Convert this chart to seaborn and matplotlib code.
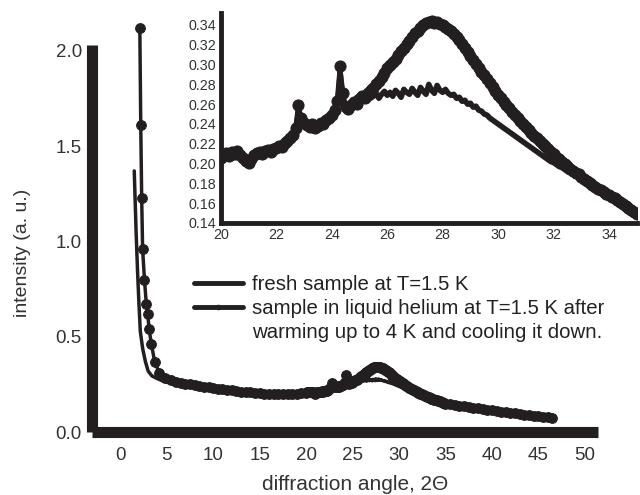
import numpy as np
import pandas as pd
import matplotlib
matplotlib.use("Agg")
import matplotlib.pyplot as plt
from matplotlib.lines import Line2D
import seaborn as sns

sns.set_style("white")
plt.rcParams["font.family"] = ["Liberation Sans", "DejaVu Sans"]

INK = "#231f20"
TEXT = "#333333"

# ---- fresh sample at T=1.5 K ----
fresh_low_x = [1.5, 1.6, 1.7, 1.85, 2.0, 2.15, 2.4, 2.7, 3.0, 3.4, 4.0, 4.5,
               5.0, 5.5, 6.0, 6.5, 7.0, 7.5, 8.0, 8.5, 9.0, 9.5, 10.0, 10.5,
               11.0, 11.5, 12.0, 12.5, 13.0, 13.5, 14.0, 14.5, 15.0, 15.5,
               16.0, 16.5, 17.0, 17.5, 18.0, 18.5, 19.0, 19.5]
fresh_low_y = [1.37, 1.20, 1.05, 0.85, 0.68, 0.53, 0.44, 0.37, 0.32, 0.295,
               0.28, 0.27, 0.262, 0.256, 0.251, 0.247, 0.244, 0.240, 0.237,
               0.234, 0.231, 0.228, 0.225, 0.222, 0.219, 0.216, 0.213, 0.211,
               0.209, 0.207, 0.205, 0.203, 0.201, 0.200, 0.199, 0.199, 0.198,
               0.199, 0.200, 0.201, 0.202, 0.203]

# 2θ grid of the detailed scan (20.0 ... 35.0 in 0.1 steps)
scan_x = np.round(np.arange(200, 351) / 10, 1)

fresh_scan_y = [
    0.204, 0.208, 0.210, 0.207, 0.211, 0.209, 0.212, 0.208, 0.205, 0.202,
    0.200, 0.204, 0.208, 0.210, 0.211, 0.209, 0.212, 0.213, 0.211, 0.214,
    0.215, 0.217, 0.216, 0.220, 0.222, 0.225, 0.228, 0.234, 0.256, 0.244,
    0.240, 0.238, 0.236, 0.239, 0.235, 0.237, 0.240, 0.239, 0.243, 0.245,
    0.248, 0.253, 0.261, 0.293, 0.269, 0.256, 0.254, 0.258, 0.261, 0.259,
    0.264, 0.267, 0.265, 0.270, 0.266, 0.268, 0.271, 0.266, 0.270, 0.273,
    0.269, 0.272, 0.268, 0.274, 0.271, 0.267, 0.275, 0.272, 0.270, 0.276,
    0.272, 0.269, 0.277, 0.273, 0.270, 0.280, 0.274, 0.271, 0.279, 0.274,
    0.272, 0.275, 0.271, 0.269, 0.270, 0.266, 0.267, 0.263, 0.264, 0.260,
    0.261, 0.257, 0.258, 0.254, 0.253, 0.250, 0.249, 0.246, 0.244, 0.242,
    0.240, 0.238, 0.236, 0.234, 0.232, 0.230, 0.228, 0.226, 0.224, 0.222,
    0.220, 0.218, 0.216, 0.214, 0.212, 0.210, 0.208, 0.206, 0.204, 0.202,
    0.201, 0.199, 0.197, 0.196, 0.194, 0.192, 0.191, 0.189, 0.187, 0.186,
    0.184, 0.183, 0.181, 0.179, 0.178, 0.176, 0.174, 0.173, 0.171, 0.169,
    0.168, 0.166, 0.164, 0.163, 0.161, 0.159, 0.157, 0.156, 0.154, 0.152,
    0.150]

high_x = [35.5, 36.0, 36.5, 37.0, 37.5, 38.0, 38.5, 39.0, 39.5, 40.0, 40.5,
          41.0, 41.5, 42.0, 42.5, 43.0, 43.5, 44.0, 44.5, 45.0, 45.5, 46.0,
          46.5]
fresh_high_y = [0.147, 0.143, 0.139, 0.135, 0.131, 0.128, 0.124, 0.121,
                0.118, 0.114, 0.111, 0.108, 0.104, 0.101, 0.098, 0.095,
                0.092, 0.089, 0.086, 0.083, 0.080, 0.077, 0.074]

# ---- sample in liquid helium, after warming up to 4 K and cooling down ----
helium_low_x = [2.1, 2.2, 2.3, 2.4, 2.6, 2.8, 2.95, 3.1, 3.35, 3.7, 4.2,
                4.8, 5.5, 6.0, 6.5, 7.0, 7.5, 8.0, 8.5, 9.0, 9.5, 10.0, 10.5,
                11.0, 11.5, 12.0, 12.5, 13.0, 13.5, 14.0, 14.5, 15.0, 15.5,
                16.0, 16.5, 17.0, 17.5, 18.0, 18.5, 19.0, 19.5]
helium_low_y = [2.12, 1.61, 1.23, 0.96, 0.80, 0.67, 0.62, 0.54, 0.46, 0.37,
                0.31, 0.285, 0.272, 0.264, 0.258, 0.254, 0.250, 0.246, 0.243,
                0.239, 0.235, 0.232, 0.228, 0.225, 0.222, 0.219, 0.216,
                0.213, 0.210, 0.208, 0.206, 0.204, 0.202, 0.201, 0.200,
                0.200, 0.200, 0.201, 0.201, 0.202, 0.203]

helium_scan_y = [
    0.206, 0.209, 0.211, 0.208, 0.212, 0.210, 0.213, 0.209, 0.206, 0.203,
    0.201, 0.205, 0.209, 0.211, 0.212, 0.210, 0.213, 0.214, 0.212, 0.215,
    0.216, 0.218, 0.217, 0.221, 0.223, 0.226, 0.229, 0.236, 0.259, 0.246,
    0.241, 0.239, 0.237, 0.240, 0.236, 0.238, 0.241, 0.240, 0.244, 0.246,
    0.249, 0.254, 0.263, 0.299, 0.271, 0.257, 0.255, 0.259, 0.262, 0.260,
    0.265, 0.268, 0.266, 0.271, 0.274, 0.276, 0.280, 0.283, 0.287, 0.292,
    0.297, 0.300, 0.303, 0.306, 0.310, 0.314, 0.317, 0.321, 0.324, 0.328,
    0.332, 0.334, 0.337, 0.340, 0.342, 0.343, 0.344, 0.342, 0.343, 0.341,
    0.340, 0.338, 0.336, 0.334, 0.331, 0.328, 0.325, 0.321, 0.317, 0.313,
    0.309, 0.305, 0.301, 0.297, 0.293, 0.289, 0.285, 0.281, 0.277, 0.273,
    0.269, 0.266, 0.262, 0.259, 0.256, 0.252, 0.249, 0.246, 0.243, 0.240,
    0.237, 0.234, 0.231, 0.228, 0.226, 0.223, 0.220, 0.218, 0.215, 0.212,
    0.210, 0.207, 0.205, 0.202, 0.200, 0.198, 0.195, 0.193, 0.191, 0.189,
    0.186, 0.184, 0.182, 0.180, 0.178, 0.176, 0.174, 0.173, 0.171, 0.169,
    0.168, 0.166, 0.165, 0.163, 0.161, 0.159, 0.157, 0.155, 0.153, 0.151,
    0.149]

helium_high_y = [0.146, 0.142, 0.138, 0.135, 0.131, 0.128, 0.124, 0.121,
                 0.117, 0.114, 0.111, 0.107, 0.104, 0.101, 0.098, 0.095,
                 0.092, 0.089, 0.086, 0.083, 0.080, 0.077, 0.075]

x_ticks = [0, 5, 10, 15, 20, 25, 30, 35, 40, 45, 50]
y_ticks = [0.0, 0.5, 1.0, 1.5, 2.0]
inset_x_ticks = [20, 22, 24, 26, 28, 30, 32, 34]
inset_y_ticks = [0.14, 0.16, 0.18, 0.20, 0.22, 0.24, 0.26, 0.28, 0.30, 0.32,
                 0.34]

fresh = pd.DataFrame({
    "angle": np.concatenate([fresh_low_x, scan_x, high_x]),
    "intensity": np.concatenate([fresh_low_y, fresh_scan_y, fresh_high_y]),
})
helium = pd.DataFrame({
    "angle": np.concatenate([helium_low_x, scan_x, high_x]),
    "intensity": np.concatenate([helium_low_y, helium_scan_y, helium_high_y]),
})

fig = plt.figure(figsize=(6.4, 4.95), dpi=100)
ax = fig.add_axes([0.143, 0.127, 0.791, 0.782])

sns.lineplot(data=fresh, x="angle", y="intensity", ax=ax, color=INK,
             lw=2.5, estimator=None, sort=False, clip_on=False)
sns.lineplot(data=helium, x="angle", y="intensity", ax=ax, color=INK,
             lw=2.5, marker="o", markersize=7, markeredgecolor=INK,
             estimator=None, sort=False, clip_on=False)

ax.set_xlim(-3.1, 51.4)
ax.set_ylim(0, 2.03)
ax.set_xticks(x_ticks)
ax.set_yticks(y_ticks)
ax.set_yticklabels([f"{v:.1f}" for v in y_ticks])
for side in ("top", "right"):
    ax.spines[side].set_visible(False)
for side in ("left", "bottom"):
    ax.spines[side].set_linewidth(8)
    ax.spines[side].set_color(INK)
    ax.spines[side].set_capstyle("butt")
ax.tick_params(axis="x", direction="out", length=3, width=3, color=INK,
               labelsize=13.5, labelcolor=TEXT, pad=8)
ax.tick_params(axis="y", direction="out", length=3, width=3, color=INK,
               labelsize=13.5, labelcolor=TEXT, pad=4)
ax.set_xlabel("diffraction angle, 2Θ", fontsize=15, color=TEXT)
ax.set_ylabel("intensity (a. u.)", fontsize=14, color=TEXT)
ax.xaxis.set_label_coords(0.52, -0.112)
ax.yaxis.set_label_coords(-0.12, 0.463)

handles = [Line2D([], [], color=INK, lw=3.5),
           Line2D([], [], color=INK, lw=3.5, marker="o", markersize=3),
           Line2D([], [], color="none")]
labels = ["fresh sample at T=1.5 K",
          "sample in liquid helium at T=1.5 K after",
          "warming up to 4 K and cooling it down."]
ax.legend(handles, labels, loc="upper left", bbox_to_anchor=(0.303, 0.444),
          bbox_transform=fig.transFigure, frameon=False, fontsize=14.7,
          handlelength=2.4, handletextpad=0.45, labelspacing=0.25,
          borderpad=0, borderaxespad=0, labelcolor="#222222")

# magnified view of the broad peak
ins = fig.add_axes([0.345, 0.5495, 0.65, 0.424])
ins.set_facecolor("white")
sns.lineplot(data=fresh, x="angle", y="intensity", ax=ins, color=INK,
             lw=4, estimator=None, sort=False)
sns.lineplot(data=helium, x="angle", y="intensity", ax=ins, color=INK,
             lw=3, marker="o", markersize=8, markeredgecolor=INK,
             estimator=None, sort=False)
ins.set_xlim(20, 35)
ins.set_ylim(0.14, 0.352)
ins.set_xticks(inset_x_ticks)
ins.set_yticks(inset_y_ticks)
ins.set_yticklabels([f"{v:.2f}" for v in inset_y_ticks])
ins.set_xlabel("")
ins.set_ylabel("")
for side in ("top", "right"):
    ins.spines[side].set_visible(False)
for side in ("left", "bottom"):
    ins.spines[side].set_linewidth(3.5)
    ins.spines[side].set_color(INK)
ins.tick_params(axis="both", direction="out", length=2.5, width=2,
                color=INK, labelsize=10.3, labelcolor=TEXT, pad=1)

fig.savefig("out.png", dpi=100)
